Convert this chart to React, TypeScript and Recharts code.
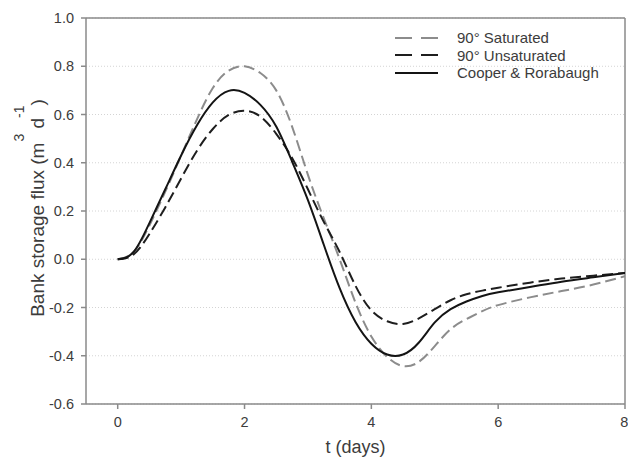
import React from "react";
import { LineChart, Line, XAxis, YAxis, CartesianGrid, ReferenceLine, Legend } from "recharts";

const tDays = [0, 0.25, 0.5, 0.75, 1, 1.25, 1.5, 1.75, 2, 2.25, 2.5, 2.75, 3, 3.25, 3.5, 3.75, 4, 4.25, 4.5, 4.75, 5, 5.25, 5.5, 5.75, 6, 6.5, 7, 7.5, 8];

const saturated = [0, 0.03, 0.14, 0.28, 0.43, 0.58, 0.71, 0.782, 0.8, 0.772, 0.7, 0.55, 0.35, 0.17, 0.0, -0.18, -0.32, -0.405, -0.443, -0.425, -0.36, -0.29, -0.248, -0.215, -0.19, -0.158, -0.132, -0.105, -0.07];

const unsaturated = [0, 0.02, 0.105, 0.215, 0.335, 0.45, 0.54, 0.598, 0.615, 0.592, 0.52, 0.42, 0.29, 0.155, 0.03, -0.11, -0.212, -0.257, -0.268, -0.245, -0.207, -0.17, -0.145, -0.13, -0.118, -0.097, -0.08, -0.068, -0.057];

const cooper = [0, 0.03, 0.15, 0.29, 0.43, 0.555, 0.65, 0.698, 0.69, 0.64, 0.55, 0.405, 0.245, 0.06, -0.12, -0.26, -0.35, -0.395, -0.395, -0.345, -0.262, -0.207, -0.175, -0.152, -0.137, -0.115, -0.093, -0.075, -0.057];

const xTicks = [0, 2, 4, 6, 8];
const yTicks = [-0.6, -0.4, -0.2, 0, 0.2, 0.4, 0.6, 0.8, 1.0];

const seriesNames = ["90° Saturated", "90° Unsaturated", "Cooper & Rorabaugh"];

const data = tDays.map((t, i) => ({
  t,
  sat: saturated[i],
  unsat: unsaturated[i],
  cooper: cooper[i],
}));

const series = [
  { key: "sat", name: seriesNames[0], color: "#8c8c8c", dash: "11 5" },
  { key: "unsat", name: seriesNames[1], color: "#1e1e1e", dash: "11 5" },
  { key: "cooper", name: seriesNames[2], color: "#141414", dash: undefined as string | undefined },
];

const FONT = "'Liberation Sans', Arial, Helvetica, sans-serif";
const AXIS = "#8a8a8a";
const TXT = "#3c3c3c";

const YLabel = (props: any) => {
  const vb = props.viewBox || {};
  const cy = (vb.y ?? 18) + (vb.height ?? 386) / 2 - 3;
  const x = 44;
  return (
    <text
      x={x}
      y={cy}
      transform={`rotate(-90, ${x}, ${cy})`}
      textAnchor="middle"
      fontFamily={FONT}
      fontSize={19}
      fill={TXT}
    >
      <tspan>Bank storage flux (m</tspan>
      <tspan fontSize={14} dy={-20} dx={1}>3</tspan>
      <tspan dy={20}> d</tspan>
      <tspan fontSize={14} dy={-20}>-1</tspan>
      <tspan dy={20}>)</tspan>
    </text>
  );
};

const XLabel = (props: any) => {
  const vb = props.viewBox || {};
  const cx = (vb.x ?? 86) + (vb.width ?? 539) / 2;
  return (
    <text x={cx} y={453} textAnchor="middle" fontFamily={FONT} fontSize={18} fill={TXT}>
      t (days)
    </text>
  );
};

const LegendContent = () => (
  <div style={{ fontFamily: FONT, fontSize: 15, color: TXT }}>
    {series.map((s) => (
      <div key={s.key} style={{ display: "flex", alignItems: "center", height: 17.5 }}>
        <svg width={62} height={10} style={{ display: "block" }}>
          <line x1={0} y1={5} x2={43} y2={5} stroke={s.color} strokeWidth={2} strokeDasharray={s.key === "cooper" ? undefined : "17 9"} />
        </svg>
        <span style={{ whiteSpace: "nowrap", lineHeight: "17px" }}>{s.name}</span>
      </div>
    ))}
  </div>
);

export default function App() {
  return (
    <div style={{ position: "absolute", left: 0, top: 0, background: "#fff" }}>
      <LineChart width={628} height={469} data={data} margin={{ top: 18, right: 3, left: 0, bottom: 0 }}>
        <CartesianGrid vertical={false} stroke="#d4d4d4" strokeDasharray="1 2" />
        <XAxis
          dataKey="t"
          type="number"
          domain={[-0.5, 8]}
          ticks={xTicks}
          height={65}
          stroke={AXIS}
          strokeWidth={1.5}
          tickSize={5}
          tickMargin={8}
          tick={{ fill: TXT, fontSize: 14.5, fontFamily: FONT }}
          label={<XLabel />}
          allowDataOverflow
        />
        <YAxis
          type="number"
          domain={[-0.6, 1.0]}
          ticks={yTicks}
          width={86}
          stroke={AXIS}
          strokeWidth={1.5}
          tickSize={5}
          tickMargin={7}
          tickFormatter={(v: number) => v.toFixed(1)}
          tick={{ fill: TXT, fontSize: 14.5, fontFamily: FONT }}
          label={<YLabel />}
          allowDataOverflow
        />
        <ReferenceLine y={1.0} stroke={AXIS} strokeWidth={1.5} />
        <ReferenceLine x={8} stroke={AXIS} strokeWidth={1.5} />
        <Legend
          layout="vertical"
          align="center"
          verticalAlign="middle"
          content={<LegendContent />}
          wrapperStyle={{ left: 395, top: 29, width: 230, height: 56 }}
        />
        {series.map((s) => (
          <Line
            key={s.key}
            dataKey={s.key}
            name={s.name}
            type="natural"
            stroke={s.color}
            strokeWidth={2}
            strokeDasharray={s.dash}
            dot={false}
            activeDot={false}
            isAnimationActive={false}
          />
        ))}
      </LineChart>
    </div>
  );
}
